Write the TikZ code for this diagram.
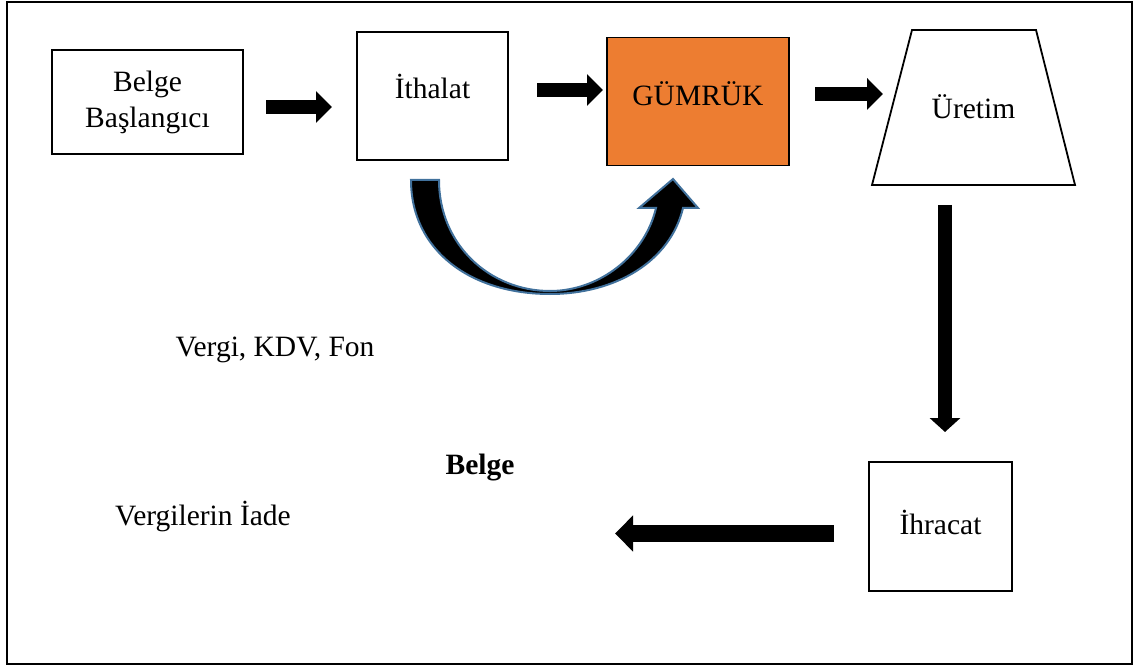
\documentclass[tikz,border=0pt]{standalone}
\usepackage{fontspec}
\setmainfont{Liberation Serif}
\usetikzlibrary{arrows.meta}
\definecolor{gorange}{HTML}{ED7D31}
\definecolor{gblue}{HTML}{41719C}
\tikzset{
  box/.style={draw=black, line width=1.8pt, fill=white, align=center},
  blockarrow/.style={line width=14pt, -{Triangle[length=16pt,width=31pt]}},
  lbl/.style={inner sep=0pt, align=center},
}
\begin{document}
\begin{tikzpicture}[x=1pt,y=-1pt,font=\fontsize{29.5}{36}\selectfont]
\useasboundingbox (0,0) rectangle (1140,668);
\draw[line width=2pt] (7,2) rectangle (1132,664);

% boxes
\node[box, minimum width=191pt, minimum height=104pt] (bb) at (147.5,102) {Belge\\Başlangıcı};
\node[box, minimum width=151pt, minimum height=128pt, text depth=20pt] (ith) at (432.5,96) {İthalat};
\node[box, fill=gorange, minimum width=182pt, minimum height=128pt, text depth=16pt] (gum) at (698,101.5) {GÜMRÜK};
\draw[line width=1.8pt, line join=miter] (872,185) -- (912,30) -- (1036,30) -- (1075,185) -- cycle;
\node[lbl] (ure) at (973.5,107) {Üretim};
\node[box, minimum width=143pt, minimum height=129pt, text depth=8pt] (ihr) at (940.5,526.5) {İhracat};

% free texts
\node[lbl] (vkf) at (275,350) {Vergi, KDV, Fon};
\node[lbl, font=\fontsize{29.5}{36}\selectfont\bfseries] (belge) at (480,468) {Belge};
\node[lbl] (via) at (203,517) {Vergilerin İade};

% straight block arrows
\coordinate (a1s) at (266,107); \coordinate (a1e) at (332,107);
\coordinate (a2s) at (537,90);  \coordinate (a2e) at (603,90);
\coordinate (a3s) at (815,94);  \coordinate (a3e) at (883,94);
\coordinate (a4s) at (945,205); \coordinate (a4e) at (945,432);
\coordinate (a5s) at (834,533.5); \coordinate (a5e) at (615,533.5);
\draw[blockarrow] (a1s) -- (a1e);
\draw[blockarrow] (a2s) -- (a2e);
\draw[blockarrow] (a3s) -- (a3e);
\draw[line width=14pt, -{Triangle[length=14pt,width=30pt]}] (a4s) -- (a4e);
\draw[line width=17pt, -{Triangle[length=18pt,width=35pt]}] (a5s) -- (a5e);

% curved block arrow
\filldraw[fill=black, draw=gblue, line width=2pt, line join=miter]
  (411,180) -- (439,180)
  .. controls (439,245) and (490,291) .. (550,291)
  .. controls (600,291) and (645,255) .. (656,208)
  -- (639,208) -- (673,179) -- (698,208) -- (683,208)
  .. controls (670,262) and (615,294) .. (550,294)
  .. controls (470,294) and (411,250) .. cycle;
\end{tikzpicture}
\end{document}
